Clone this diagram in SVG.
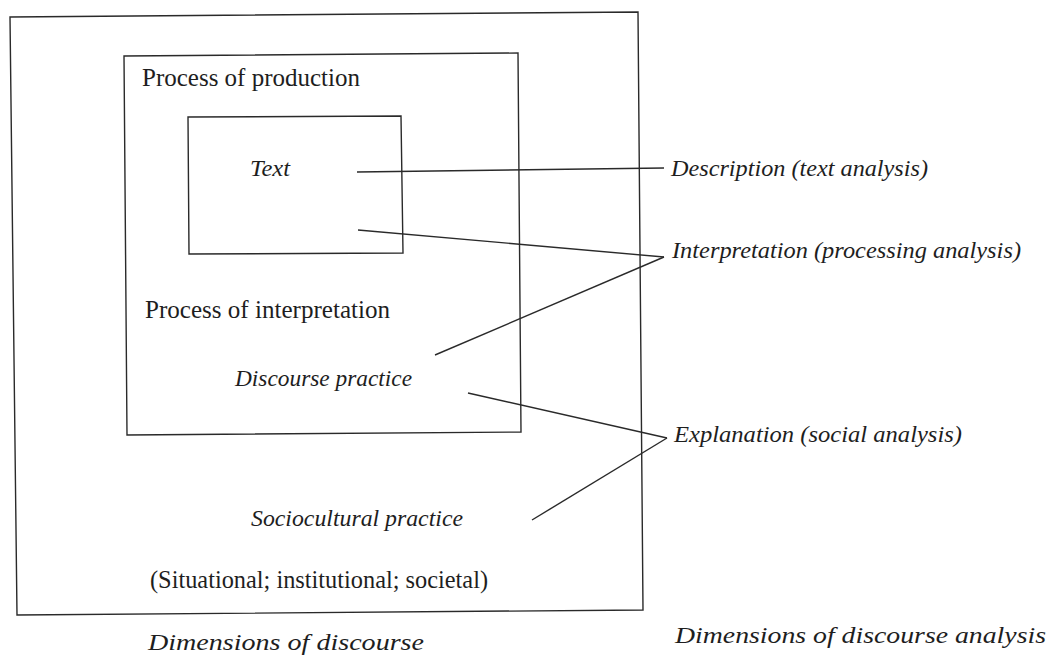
<svg xmlns="http://www.w3.org/2000/svg" width="1056" height="655" viewBox="0 0 1056 655">
<style>
.box{fill:none;stroke:#2a2a2a;stroke-width:1.4;stroke-linejoin:miter}
.ln{fill:none;stroke:#2a2a2a;stroke-width:1.4}
.r{font-family:'Liberation Serif','Times New Roman',Times,serif;font-size:25px;fill:#1e1e1e}
.i{font-family:'Liberation Serif','Times New Roman',Times,serif;font-style:italic;font-size:24px;fill:#1e1e1e}
</style>
<rect width="1056" height="655" fill="#ffffff"/>
<g id="sociocultural">
<polygon class="box" points="10,17 638,12 643,610 17,615"/>
<text class="i" x="251" y="526" textLength="212" lengthAdjust="spacingAndGlyphs">Sociocultural practice</text>
<text class="r" x="150" y="588" textLength="338" lengthAdjust="spacingAndGlyphs">(Situational; institutional; societal)</text>
</g>
<g id="discourse-practice">
<polygon class="box" points="124,56 518,53 521,432 127,435"/>
<text class="r" x="142" y="86" textLength="218" lengthAdjust="spacingAndGlyphs">Process of production</text>
<text class="r" x="145" y="318" textLength="245" lengthAdjust="spacingAndGlyphs">Process of interpretation</text>
<text class="i" x="235" y="386" textLength="177" lengthAdjust="spacingAndGlyphs">Discourse practice</text>
</g>
<g id="text-box">
<polygon class="box" points="188,117 401,116 403,253 189,254"/>
<text class="i" x="250" y="176" textLength="40" lengthAdjust="spacingAndGlyphs">Text</text>
</g>
<g id="connectors">
<line class="ln" x1="357" y1="172" x2="664" y2="168"/>
<line class="ln" x1="358" y1="230" x2="664" y2="257"/>
<line class="ln" x1="435" y1="355" x2="664" y2="257"/>
<line class="ln" x1="468" y1="393" x2="667" y2="438"/>
<line class="ln" x1="532" y1="520" x2="667" y2="438"/>
</g>
<g id="description">
<text class="i" x="671" y="176" textLength="257" lengthAdjust="spacingAndGlyphs">Description (text analysis)</text>
</g>
<g id="interpretation">
<text class="i" x="672" y="258" textLength="349" lengthAdjust="spacingAndGlyphs">Interpretation (processing analysis)</text>
</g>
<g id="explanation">
<text class="i" x="674" y="442" textLength="288" lengthAdjust="spacingAndGlyphs">Explanation (social analysis)</text>
</g>
<g id="captions">
<text class="i" x="148" y="650" textLength="276" lengthAdjust="spacingAndGlyphs">Dimensions of discourse</text>
<text class="i" x="675" y="643" textLength="371" lengthAdjust="spacingAndGlyphs">Dimensions of discourse analysis</text>
</g>
</svg>
